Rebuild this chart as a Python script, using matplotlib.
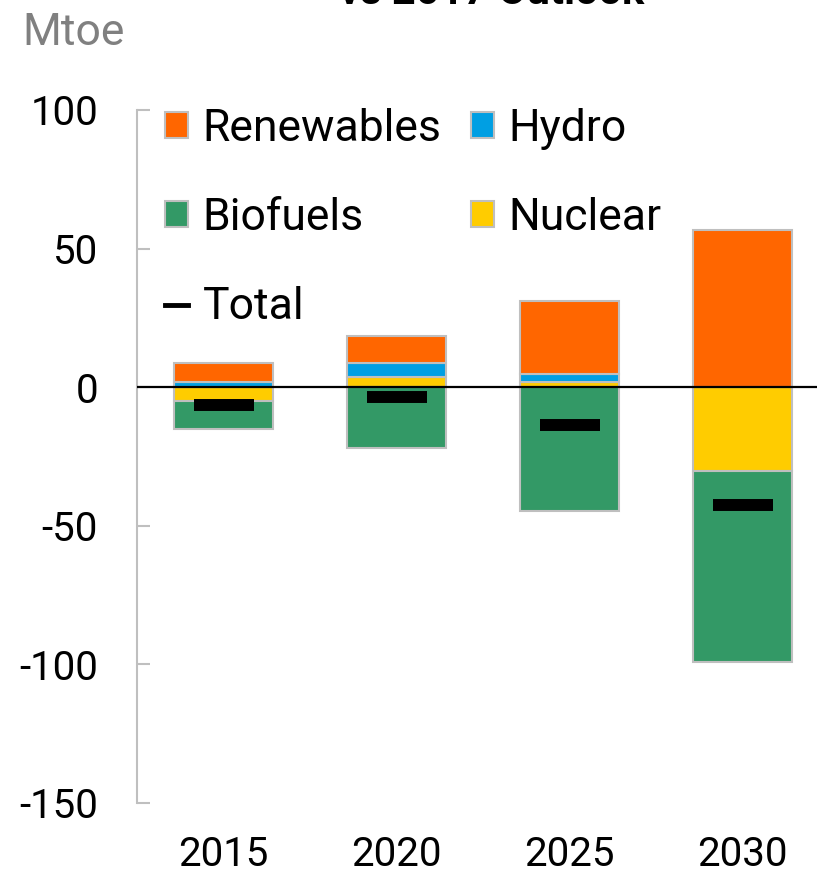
import matplotlib.pyplot as plt
import numpy as np

plt.rcParams['font.family'] = ['Roboto', 'DejaVu Sans']
plt.rcParams['axes.unicode_minus'] = False

years = ['2015', '2020', '2025', '2030']
renewables = [6.9, 9.7, 26.4, 56.7]
hydro = [1.8, 5.1, 2.7, 0.0]
nuclear = [-5.0, 3.6, 1.9, -30.3]
biofuels = [-10.2, -22.0, -44.8, -69.0]
total = [-6.5, -3.7, -13.8, -42.6]

col_ren = '#FF6600'
col_hyd = '#009FE3'
col_bio = '#339966'
col_nuc = '#FFCC00'
edge = '#BFBFBF'

W, H = 817, 873
fig = plt.figure(figsize=(W / 100, H / 100), dpi=100)
ax = fig.add_axes([137 / W, 1 - 803 / H, 692 / W, 693 / H])

x = np.arange(len(years))
bw = 0.57

# stack positives upwards and negatives downwards
pos = np.zeros(len(years))
neg = np.zeros(len(years))
handles = {}
for name, vals, col in [('Nuclear', nuclear, col_nuc), ('Hydro', hydro, col_hyd),
                        ('Renewables', renewables, col_ren), ('Biofuels', biofuels, col_bio)]:
    vals = np.array(vals)
    base = np.where(vals >= 0, pos, neg)
    b = ax.bar(x, vals, bw, bottom=base, color=col, edgecolor=edge, linewidth=1.5, zorder=2)
    handles[name] = b
    pos = pos + np.where(vals >= 0, vals, 0)
    neg = neg + np.where(vals < 0, vals, 0)

ax.plot(x, total, ls='none', marker='_', ms=42.5, mew=8.6, color='black', zorder=4)
tot_h, = ax.plot([], [], color='black', lw=3.5)

ax.axhline(0, color='black', lw=1.6, zorder=3)

ax.set_xlim(-0.5, 3.5)
ax.set_ylim(-150, 100)
ax.set_yticks([-150, -100, -50, 0, 50, 100])
ax.set_xticks(x)
ax.set_xticklabels(years)
for s in ['top', 'right', 'bottom']:
    ax.spines[s].set_visible(False)
ax.spines['left'].set_color(edge)
ax.spines['left'].set_linewidth(1.5)
ax.tick_params(axis='y', direction='in', length=9, width=1.5, color=edge,
               labelsize=29, pad=28)
ax.tick_params(axis='x', length=0, labelsize=29, pad=23)

leg = fig.legend([handles['Renewables'], handles['Biofuels'], tot_h, handles['Hydro'], handles['Nuclear']],
                 ['Renewables', 'Biofuels', 'Total', 'Hydro', 'Nuclear'],
                 ncol=2, loc='upper left', bbox_to_anchor=(165 / W, 1 - 108 / H),
                 frameon=False, fontsize=32, handlelength=0.52, handleheight=0.52,
                 handletextpad=0.33, columnspacing=0.65, labelspacing=1.06,
                 borderpad=0, borderaxespad=0)

fig.text(22 / W, 1 - 45 / H, 'Mtoe', fontsize=32, color='#808080', va='baseline')
fig.text(492 / W, 1 - 4 / H, 'vs 2017 Outlook', fontsize=30, fontweight='bold',
         ha='center', va='baseline')

fig.savefig('out.png', dpi=100)
